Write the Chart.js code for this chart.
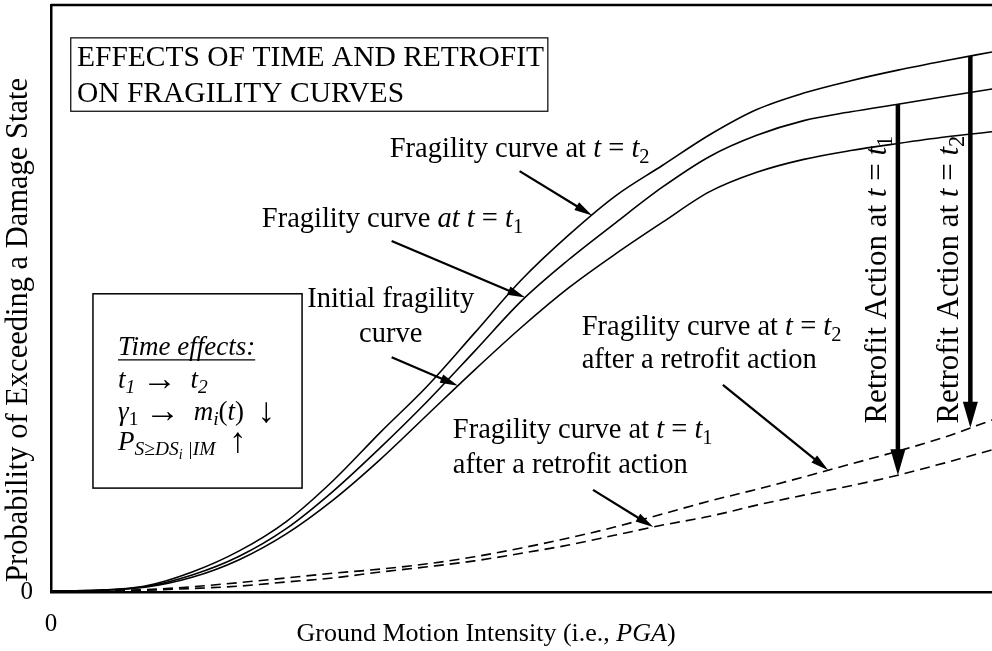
<!DOCTYPE html>
<html>
<head>
<meta charset="utf-8">
<script src="https://cdn.jsdelivr.net/npm/chart.js@4.4.0/dist/chart.umd.min.js"></script>
<style>
  html, body { margin: 0; padding: 0; background: #fff; }
  #wrap { width: 992px; height: 651px; }
</style>
</head>
<body>
<div id="wrap"><canvas id="fragility"></canvas></div>
<script>
// ground motion intensity (normalised PGA)
const pga = [0, 0.05, 0.1, 0.15, 0.2, 0.25, 0.3, 0.35, 0.4, 0.45, 0.5,
             0.55, 0.6, 0.65, 0.7, 0.75, 0.8, 0.85, 0.9, 0.95, 1.0];

// exceedance probability for each curve
const initialCurve = [0.002, 0.003, 0.008, 0.025, 0.055, 0.099, 0.157, 0.226, 0.302, 0.378, 0.451,
                      0.518, 0.576, 0.630, 0.682, 0.715, 0.737, 0.752, 0.764, 0.775, 0.784];
const curveT1 = [0.002, 0.003, 0.009, 0.029, 0.061, 0.108, 0.172, 0.246, 0.325, 0.410, 0.496,
                 0.566, 0.629, 0.690, 0.742, 0.778, 0.803, 0.818, 0.831, 0.844, 0.857];
const curveT2 = [0.002, 0.003, 0.010, 0.034, 0.070, 0.120, 0.190, 0.272, 0.351, 0.441, 0.532,
                 0.608, 0.675, 0.727, 0.779, 0.822, 0.850, 0.871, 0.889, 0.905, 0.920];
const retrofitT1 = [0, 0.002, 0.003, 0.006, 0.010, 0.017, 0.024, 0.034, 0.043, 0.053, 0.066,
                    0.080, 0.097, 0.114, 0.129, 0.148, 0.165, 0.181, 0.199, 0.220, 0.242];
const retrofitT2 = [0, 0.002, 0.004, 0.009, 0.016, 0.024, 0.032, 0.039, 0.048, 0.060, 0.075,
                    0.092, 0.111, 0.133, 0.155, 0.175, 0.196, 0.218, 0.240, 0.264, 0.293];

// only the origin is labelled on both axes
const xTickValues = [0];
const yTickValues = [0];

const SERIF = '"Liberation Serif", "Times New Roman", serif';

// value of a curve at any x (linear between samples)
function valueAt(series, x) {
  for (let i = 1; i < pga.length; i++) {
    if (x <= pga[i]) {
      const f = (x - pga[i - 1]) / (pga[i] - pga[i - 1]);
      return series[i - 1] + f * (series[i] - series[i - 1]);
    }
  }
  return series[series.length - 1];
}

// callout arrows: tail in data units, tip sits on a curve
const pointers = [
  { from: [0.498, 0.717], curve: curveT2, at: 0.575 },
  { from: [0.362, 0.598], curve: curveT1, at: 0.504 },
  { from: [0.362, 0.400], curve: initialCurve, at: 0.4325 },
  { from: [0.714, 0.353], curve: retrofitT2, at: 0.826 },
  { from: [0.576, 0.174], curve: retrofitT1, at: 0.640 }
];

// retrofit drops: from the aged curve down to the retrofitted one
const retrofits = [
  { at: 0.9, top: curveT1, bottom: retrofitT1, labelX: 0.887, sub: '1' },
  { at: 0.977, top: curveT2, bottom: retrofitT2, labelX: 0.964, sub: '2' }
];

// text runs: style '' roman, 'i' italic, 'b' subscript, 'bi' italic subscript,
// 'bbi' second level, 'L' enlarged symbol
const captions = [
  { x: 0.360, y: 0.741, runs: [['Fragility curve at ', ''], ['t', 'i'], [' = ', ''], ['t', 'i'], ['2', 'b']] },
  { x: 0.224, y: 0.622, runs: [['Fragility curve ', ''], ['at t', 'i'], [' = ', ''], ['t', 'i'], ['1', 'b']] },
  { x: 0.361, y: 0.486, align: 'center', runs: [['Initial fragility', '']] },
  { x: 0.361, y: 0.426, align: 'center', runs: [['curve', '']] },
  { x: 0.564, y: 0.438, runs: [['Fragility curve at ', ''], ['t', 'i'], [' = ', ''], ['t', 'i'], ['2', 'b']] },
  { x: 0.564, y: 0.382, runs: [['after a retrofit action', '']] },
  { x: 0.427, y: 0.262, runs: [['Fragility curve at ', ''], ['t', 'i'], [' = ', ''], ['t', 'i'], ['1', 'b']] },
  { x: 0.427, y: 0.203, runs: [['after a retrofit action', '']] }
];

const titleBox = { x0: 0.021, x1: 0.528, y0: 0.944, y1: 0.819, textX: 0.0276,
  lines: [{ y: 0.896, text: 'EFFECTS OF TIME AND RETROFIT' }, { y: 0.835, text: 'ON FRAGILITY CURVES' }] };

const timeBox = { x0: 0.0446, x1: 0.2668, y0: 0.508, y1: 0.177, textX: 0.0712,
  lines: [
    { y: 0.404, underline: true, runs: [['Time effects:', 'i']] },
    { y: 0.3475, runs: [['t', 'i'], ['1', 'bi'], [' ', ''], ['\u2192', 'L'], ['  ', ''], ['t', 'i'], ['2', 'bi']] },
    { y: 0.293, runs: [['\u03b3', 'i'], ['1', 'b'], [' ', ''], ['\u2192', 'L'], ['  ', ''], ['m', 'i'], ['i', 'bi'], ['(', ''], ['t', 'i'], [')  ', ''], ['\u2193', 'L']] },
    { y: 0.242, runs: [['P', 'i'], ['S\u2265DS', 'bi'], ['i', 'bbi'], [' |IM', 'bi'], ['  ', ''], ['\u2191', 'L']] }
  ] };

function drawRuns(ctx, runs, x, y, size, align) {
  const pieces = runs.map(([text, st]) => {
    const italic = st.includes('i');
    const level = (st.match(/b/g) || []).length;
    let s = size * Math.pow(0.72, level);
    if (st === 'L') s = size * 1.3;
    const font = (italic ? 'italic ' : '') + s + 'px ' + SERIF;
    ctx.font = font;
    let dy = level === 0 ? 0 : size * 0.2 + (level - 1) * size * 0.12;
    if (st === 'L') dy = size * 0.06;
    return { text, font, dy, w: ctx.measureText(text).width };
  });
  const total = pieces.reduce((a, p) => a + p.w, 0);
  let cx = align === 'center' ? x - total / 2 : x;
  ctx.textAlign = 'left';
  ctx.textBaseline = 'alphabetic';
  for (const p of pieces) {
    ctx.font = p.font;
    ctx.fillText(p.text, cx, y + p.dy);
    cx += p.w;
  }
  return total;
}

function arrow(ctx, x1, y1, x2, y2, lw, headLen, headW) {
  const a = Math.atan2(y2 - y1, x2 - x1);
  ctx.lineWidth = lw;
  ctx.beginPath();
  ctx.moveTo(x1, y1);
  ctx.lineTo(x2 - Math.cos(a) * headLen * 0.8, y2 - Math.sin(a) * headLen * 0.8);
  ctx.stroke();
  ctx.save();
  ctx.translate(x2, y2);
  ctx.rotate(a);
  ctx.beginPath();
  ctx.moveTo(0, 0);
  ctx.lineTo(-headLen, headW / 2);
  ctx.lineTo(-headLen, -headW / 2);
  ctx.closePath();
  ctx.fill();
  ctx.restore();
}

const overlay = {
  id: 'overlay',
  afterDraw(chart) {
    const ctx = chart.ctx;
    const area = chart.chartArea;
    const sx = v => chart.scales.x.getPixelForValue(v);
    const sy = v => chart.scales.y.getPixelForValue(v);
    ctx.save();
    ctx.fillStyle = '#000';
    ctx.strokeStyle = '#000';

    // top frame line
    ctx.lineWidth = 2.5;
    ctx.beginPath();
    ctx.moveTo(area.left, area.top);
    ctx.lineTo(area.right, area.top);
    ctx.stroke();

    // axis titles
    drawRuns(ctx, [['Ground Motion Intensity (i.e., ', ''], ['PGA', 'i'], [')', '']],
      area.left + 435, area.bottom + 49, 26, 'center');
    ctx.save();
    ctx.translate(27, area.top + 325);
    ctx.rotate(-Math.PI / 2);
    drawRuns(ctx, [['Probability of Exceeding a Damage State', '']], 0, 0, 30.5, 'center');
    ctx.restore();

    // title box
    ctx.lineWidth = 1.2;
    ctx.strokeRect(sx(titleBox.x0), sy(titleBox.y0), sx(titleBox.x1) - sx(titleBox.x0), sy(titleBox.y1) - sy(titleBox.y0));
    titleBox.lines.forEach(l => drawRuns(ctx, [[l.text, '']], sx(titleBox.textX), sy(l.y), 29.5));

    // time effects box
    ctx.lineWidth = 1.5;
    ctx.strokeRect(sx(timeBox.x0), sy(timeBox.y0), sx(timeBox.x1) - sx(timeBox.x0), sy(timeBox.y1) - sy(timeBox.y0));
    timeBox.lines.forEach(l => {
      const w = drawRuns(ctx, l.runs, sx(timeBox.textX), sy(l.y), 27);
      if (l.underline) {
        ctx.lineWidth = 1.3;
        ctx.beginPath();
        ctx.moveTo(sx(timeBox.textX), sy(l.y) + 5);
        ctx.lineTo(sx(timeBox.textX) + w, sy(l.y) + 5);
        ctx.stroke();
      }
    });

    // curve captions
    captions.forEach(c => drawRuns(ctx, c.runs, sx(c.x), sy(c.y), 28.5, c.align));

    // callout arrows
    ctx.lineCap = 'butt';
    pointers.forEach(p => {
      arrow(ctx, sx(p.from[0]), sy(p.from[1]), sx(p.at), sy(valueAt(p.curve, p.at)), 2.3, 18, 9);
    });

    // retrofit drops with rotated labels
    retrofits.forEach(r => {
      const x = sx(r.at);
      arrow(ctx, x, sy(valueAt(r.top, r.at)), x, sy(valueAt(r.bottom, r.at)), 4.5, 26, 15);
      ctx.save();
      ctx.translate(sx(r.labelX), sy(0.532));
      ctx.rotate(-Math.PI / 2);
      drawRuns(ctx, [['Retrofit Action at ', ''], ['t', 'i'], [' = ', ''], ['t', 'i'], [r.sub, 'b']], 0, 0, 31, 'center');
      ctx.restore();
    });
    ctx.restore();
  }
};

function series(values, dashed) {
  return {
    data: pga.map((x, i) => ({ x, y: values[i] })),
    borderColor: '#000',
    borderWidth: 1.6,
    borderDash: dashed ? [10, 6] : [],
    pointRadius: 0,
    fill: false,
    cubicInterpolationMode: 'monotone'
  };
}

new Chart(document.getElementById('fragility'), {
  type: 'line',
  data: {
    datasets: [
      series(initialCurve, false),
      series(curveT1, false),
      series(curveT2, false),
      series(retrofitT1, true),
      series(retrofitT2, true)
    ]
  },
  options: {
    responsive: true,
    maintainAspectRatio: false,
    animation: false,
    layout: { padding: { top: 5, right: 0, bottom: 0, left: 0 } },
    plugins: { legend: { display: false }, tooltip: { enabled: false } },
    scales: {
      x: {
        type: 'linear',
        min: 0,
        max: 1,
        grid: { display: false, drawTicks: false },
        border: { color: '#000', width: 2.5 },
        afterBuildTicks: s => { s.ticks = xTickValues.map(value => ({ value })); },
        afterFit: s => { s.height = 59; s.paddingLeft = 0; s.paddingRight = 0; },
        ticks: { color: '#000', padding: 17, font: { family: SERIF, size: 25 } }
      },
      y: {
        min: 0,
        max: 1,
        grid: { display: false, drawTicks: false },
        border: { color: '#000', width: 2.5 },
        afterBuildTicks: s => { s.ticks = yTickValues.map(value => ({ value })); },
        afterFit: s => { s.width = 51; s.paddingTop = 0; s.paddingBottom = 0; },
        ticks: { color: '#000', padding: 18, font: { family: SERIF, size: 25 } }
      }
    }
  },
  plugins: [overlay]
});
</script>
</body>
</html>
